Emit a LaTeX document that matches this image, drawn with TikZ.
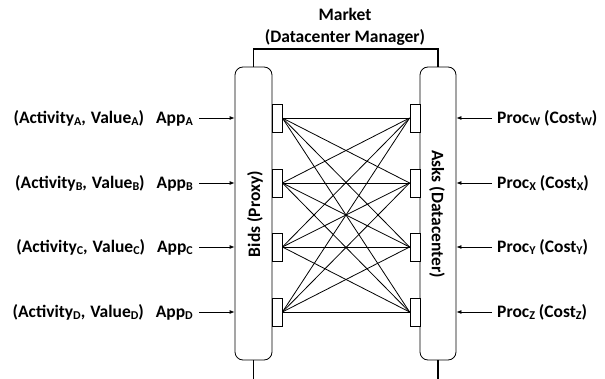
\documentclass[tikz,border=0pt]{standalone}
\usepackage{fontspec}
\setmainfont{Carlito}
\usetikzlibrary{arrows.meta}
\newcommand\subs[1]{\raisebox{-0.13em}{\fontsize{12}{12}\selectfont #1}}
\begin{document}
\begin{tikzpicture}[x=1pt,y=-1pt,
  every node/.style={font=\fontsize{17.5}{22}\selectfont\bfseries},
  thin line/.style={line width=0.8pt},
  bracket/.style={line width=1.8pt},
  bigbox/.style={draw,thin line,rounded corners=8pt,minimum width=37pt,minimum height=293pt,inner sep=0pt},
  port/.style={draw,thin line,minimum width=10pt,minimum height=28pt,inner sep=0pt,fill=white},
  lbl/.style={inner sep=0pt},
  arr/.style={thin line,-{Latex[length=5pt,width=4pt]}}]
\useasboundingbox (0,0) rectangle (605,379);
\node[align=center,inner sep=0pt] (market) at (345,27) {Market\\(Datacenter Manager)};
\node[bigbox] (bids) at (253.5,213.5) {};
\node[bigbox,minimum width=36pt] (asks) at (438,213.5) {};
\node[rotate=90] (bidlbl) at (255,214) {Bids (Proxy)};
\node[rotate=-90] (asklbl) at (437,214) {Asks (Datacenter)};
\coordinate (ml) at (253.5,49);
\coordinate (mr) at (438,49);
\draw[bracket] (bids.north) -- (ml) -- (mr) -- (asks.north);
\coordinate (bl) at (253.5,379);
\coordinate (br) at (438,379);
\draw[bracket] (bids.south) -- (bl);
\draw[bracket] (asks.south) -- (br);
\foreach \n/\y in {A/118,B/183,C/247,D/312}{
  \node[port] (l\n) at (277,\y) {};
}
\foreach \n/\y in {W/118,X/183,Y/247,Z/312}{
  \node[port] (r\n) at (415,\y) {};
}
\foreach \a in {A,B,C,D}{
  \foreach \b in {W,X,Y,Z}{
    \draw[thin line] (l\a.east) -- (r\b.west);
  }
}
\foreach \n/\y in {A/118,B/183,C/247,D/312}{
  \node[lbl,anchor=east] (t\n) at (193,\y) {(Activity\subs{\n},\hspace{5pt}Value\subs{\n})\hspace{12pt}App\subs{\n}};
  \draw[arr] ([xshift=6pt]t\n.east) -- (bids.west |- t\n.east);
}
\foreach \n/\y in {W/118,X/183,Y/247,Z/312}{
  \node[lbl,anchor=west] (t\n) at (497,\y) {Proc\subs{\n} (Cost\subs{\n})};
  \draw[arr] ([xshift=-5pt]t\n.west) -- (asks.east |- t\n.west);
}
\end{tikzpicture}
\end{document}
